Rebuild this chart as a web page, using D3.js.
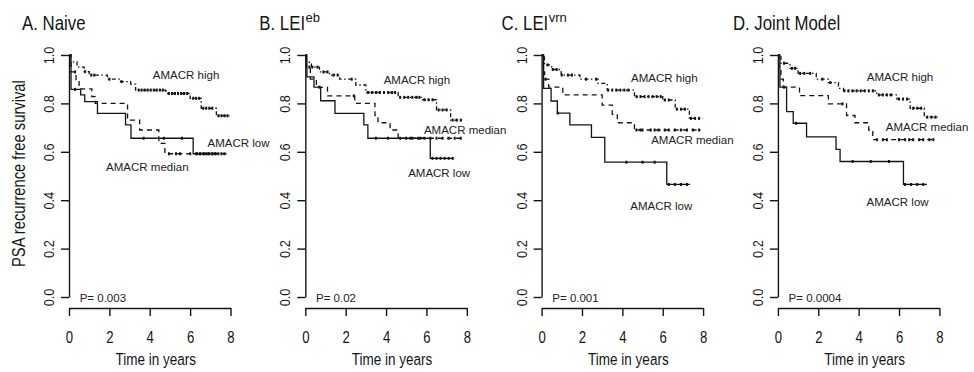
<!DOCTYPE html>
<html><head><meta charset="utf-8">
<script src="https://cdn.jsdelivr.net/npm/d3@7"></script>
<style>body{margin:0;background:#fff}svg{display:block}</style>
</head><body><svg id="chart" width="974" height="372"></svg>
<script>
// ---------------- data ----------------
const panelTitles = ["A. Naive", "B. LEI", "C. LEI", "D. Joint Model"];
const panelSups = ["", "eb", "vrn", ""];
const pValues = ["P= 0.003", "P= 0.02", "P= 0.001", "P= 0.0004"];
const groups = ["AMACR high", "AMACR median", "AMACR low"];
const xTicks = [0, 2, 4, 6, 8];
const yTicks = [0, 0.2, 0.4, 0.6, 0.8, 1.0];
const xTitle = "Time in years";
const yTitle = "PSA recurrence free survival";

// Kaplan-Meier steps: [time, survival]; last pair = end of follow-up
const naiveHigh = [[0,1],[0.05,0.972],[0.4,0.95],[0.75,0.931],[1.0,0.917],[1.9,0.90],[2.55,0.89],[3.05,0.88],[3.3,0.855],[4.8,0.841],[6.0,0.821],[6.55,0.78],[7.3,0.749],[7.95,0.749]];
const naiveMedian = [[0,1],[0.1,0.93],[0.35,0.897],[0.5,0.86],[1.13,0.828],[1.3,0.80],[2.9,0.731],[3.5,0.69],[4.45,0.635],[4.75,0.592],[7.8,0.592]];
const naiveLow = [[0,1],[0.1,0.858],[0.58,0.835],[0.78,0.807],[1.41,0.759],[2.8,0.711],[3.07,0.656],[6.15,0.592],[7.3,0.592]];

const ebHigh = [[0,1],[0.05,0.97],[0.3,0.95],[0.7,0.93],[1.2,0.917],[1.7,0.90],[2.5,0.876],[3.0,0.845],[4.6,0.825],[5.8,0.815],[6.5,0.773],[7.2,0.731],[7.85,0.731]];
const ebMedian = [[0,1],[0.05,0.95],[0.25,0.90],[0.55,0.866],[1.1,0.831],[2.45,0.80],[3.45,0.75],[3.6,0.72],[4.2,0.69],[4.6,0.656],[7.8,0.656]];
const ebLow = [[0,1],[0.08,0.91],[0.43,0.867],[0.76,0.811],[1.47,0.759],[2.9,0.711],[3.1,0.656],[6.19,0.573],[7.34,0.573]];

const vrnHigh = [[0,1],[0.14,0.959],[0.5,0.94],[0.97,0.917],[1.9,0.90],[2.79,0.883],[3.25,0.855],[4.6,0.828],[6.0,0.814],[6.62,0.776],[7.32,0.738],[8.0,0.738]];
const vrnMedian = [[0,1],[0.08,0.93],[0.15,0.90],[0.35,0.867],[1.05,0.835],[3.0,0.793],[3.5,0.755],[3.75,0.72],[4.6,0.69],[7.9,0.69]];
const vrnLow = [[0,1],[0.1,0.862],[0.47,0.81],[0.78,0.76],[1.4,0.711],[2.47,0.66],[3.13,0.557],[6.2,0.465],[7.35,0.465]];

const jointHigh = [[0,1],[0.15,0.966],[0.6,0.945],[1.0,0.924],[1.9,0.90],[2.5,0.886],[3.0,0.862],[3.25,0.852],[4.9,0.835],[5.9,0.818],[6.55,0.78],[7.25,0.743],[7.95,0.743]];
const jointMedian = [[0,1],[0.05,0.95],[0.15,0.90],[0.27,0.867],[1.07,0.832],[2.5,0.798],[3.4,0.75],[3.82,0.72],[4.5,0.69],[4.7,0.65],[7.8,0.65]];
const jointLow = [[0,1],[0.1,0.867],[0.43,0.766],[0.76,0.718],[1.42,0.662],[2.88,0.61],[3.08,0.56],[6.22,0.465],[7.38,0.465]];

// censoring times
const naiveHighCens = [0.8,1.1,1.25,2.0,2.6,3.45,3.6,3.75,3.9,4.05,4.2,4.35,4.5,4.65,4.95,5.1,5.25,5.4,5.55,5.7,5.85,6.15,6.3,6.45,6.65,6.8,6.95,7.1,7.4,7.55,7.7,7.85];
const naiveMedianCens = [0.3,4.95,5.3,5.5,6.0,6.35,6.5,6.65,6.8,6.95,7.1,7.25,7.4,7.55,7.7];
const naiveLowCens = [0.3,3.7,4.7,5.6,6.3,6.5,6.7,6.9,7.1,7.25];
const ebHighCens = [0.35,0.6,0.9,1.1,1.4,1.6,2.3,3.1,3.3,3.5,3.7,3.9,4.1,4.3,4.45,4.7,4.9,5.1,5.3,5.5,5.65,5.9,6.1,6.3,6.6,6.8,7.0,7.3,7.5,7.7];
const ebMedianCens = [0.2,2.4,4.7,5.0,5.3,5.6,5.9,6.2,6.5,6.8,7.1,7.4,7.7];
const ebLowCens = [0.7,3.5,4.1,5.2,5.7,6.3,6.5,6.7,6.9,7.1,7.3];
const vrnHighCens = [0.3,0.55,0.75,1.0,1.3,1.5,2.2,2.7,3.3,3.5,3.7,3.9,4.1,4.3,4.7,4.9,5.1,5.3,5.5,5.7,5.9,6.1,6.3,6.7,6.9,7.1,7.4,7.6,7.8];
const vrnMedianCens = [0.2,4.7,4.9,5.0,5.4,5.6,5.8,6.1,6.3,6.6,6.9,7.2,7.5,7.8];
const vrnLowCens = [0.8,4.2,5.0,5.6,6.3,6.6,6.9,7.2];
const jointHighCens = [0.3,0.7,0.85,1.1,1.3,1.6,2.2,2.6,3.3,3.5,3.7,3.9,4.1,4.3,4.5,4.7,5.0,5.2,5.4,5.6,6.0,6.2,6.4,6.7,6.9,7.1,7.4,7.6,7.8];
const jointMedianCens = [0.3,3.2,4.9,5.2,5.4,6.0,6.3,6.5,6.7,7.0,7.2,7.5,7.7];
const jointLowCens = [0.9,3.7,4.6,5.5,6.3,6.6,6.9,7.2];

const panelCurves = [
  [naiveHigh, naiveMedian, naiveLow],
  [ebHigh, ebMedian, ebLow],
  [vrnHigh, vrnMedian, vrnLow],
  [jointHigh, jointMedian, jointLow]
];
const panelCensors = [
  [naiveHighCens, naiveMedianCens, naiveLowCens],
  [ebHighCens, ebMedianCens, ebLowCens],
  [vrnHighCens, vrnMedianCens, vrnLowCens],
  [jointHighCens, jointMedianCens, jointLowCens]
];

// ---------------- layout ----------------
const layout = {
  left0: 69, step: 236.3, plotW: 161.5,
  yTop: 55, yBottom: 297, xAxisY: 308,
  titleDx: [-47, -46, -40, -45],
  // label anchors in data coordinates [t, s] for high / median / low
  labelAt: [
    [[5.8,0.917],[3.88,0.537],[8.4,0.636]],
    [[5.53,0.897],[7.92,0.69],[6.63,0.512]],
    [[6.08,0.905],[7.47,0.649],[5.93,0.376]],
    [[6.05,0.909],[7.39,0.702],[5.93,0.393]]
  ]
};
const dashes = ["1.5,2.5,4,2.5", "5,4", null];
const ink = "#141414";
const narrow = "scale(0.82,1)";
const FONT = "'Liberation Sans', Arial, Helvetica, sans-serif";

const svg = d3.select("#chart").attr("font-family", FONT);

function survAt(curve, t) {
  let s = curve[0][1];
  for (const [tt, ss] of curve) { if (tt <= t) s = ss; else break; }
  return s;
}

panelCurves.forEach((curves, i) => {
  const x0 = layout.left0 + i * layout.step;
  const x = d3.scaleLinear().domain([0, 8]).range([x0, x0 + layout.plotW]);
  const y = d3.scaleLinear().domain([0, 1]).range([layout.yBottom, layout.yTop]);
  const g = svg.append("g");

  // x axis
  const gx = g.append("g").attr("transform", `translate(0,${layout.xAxisY})`)
    .call(d3.axisBottom(x).tickValues(xTicks).tickSize(8).tickSizeOuter(0).tickPadding(0));
  gx.selectAll("path,line").attr("stroke", ink).attr("stroke-width", 1.4);
  gx.selectAll("text").attr("y", null).attr("dy", null)
    .attr("transform", `translate(0,34.5) ${narrow}`)
    .attr("font-size", 16).attr("fill", ink).attr("font-family", FONT);

  // y axis
  const gy = g.append("g").attr("transform", `translate(${x0},0)`)
    .call(d3.axisLeft(y).tickValues(yTicks).tickSize(8).tickSizeOuter(0).tickFormat(d3.format(".1f")));
  gy.selectAll("path,line").attr("stroke", ink).attr("stroke-width", 1.4);
  gy.selectAll("text").attr("x", null).attr("dy", null)
    .attr("transform", `translate(-15,0) rotate(-90) ${narrow}`)
    .attr("text-anchor", "middle")
    .attr("font-size", 15.5).attr("fill", ink).attr("font-family", FONT);

  // curves
  const line = d3.line().x(d => x(d[0])).y(d => y(d[1])).curve(d3.curveStepAfter);
  curves.forEach((c, k) => {
    g.append("path").datum(c).attr("d", line)
      .attr("fill", "none").attr("stroke", ink).attr("stroke-width", 1.3)
      .attr("stroke-dasharray", dashes[k]);
    g.selectAll(null).data(panelCensors[i][k]).enter().append("line")
      .attr("x1", t => x(t)).attr("x2", t => x(t))
      .attr("y1", t => y(survAt(c, t)) - 1.5).attr("y2", t => y(survAt(c, t)) + 1.5)
      .attr("stroke", ink).attr("stroke-width", 2);
  });

  // curve labels
  groups.forEach((lab, k) => {
    const [lt, ls] = layout.labelAt[i][k];
    g.append("text").attr("x", x(lt)).attr("y", y(ls)).attr("dy", "0.36em")
      .attr("text-anchor", "middle").attr("font-size", 11.5).attr("fill", "#222").text(lab);
  });

  // p-value
  g.append("text").attr("x", x(0.53)).attr("y", y(0) + 4.5)
    .attr("font-size", 11.5).attr("fill", "#222").text(pValues[i]);

  // x title
  g.append("text").attr("transform", `translate(${x(4) + 6},365) ${narrow}`)
    .attr("text-anchor", "middle").attr("font-size", 16.5).attr("fill", ink).text(xTitle);

  // panel title
  const tx = x0 + layout.titleDx[i];
  const tt = g.append("text").attr("transform", `translate(${tx},29.5) ${narrow}`)
    .attr("font-size", 20.5).attr("fill", ink).text(panelTitles[i]);
  if (panelSups[i]) {
    const w = tt.node().getComputedTextLength() * 0.82;
    g.append("text").attr("x", tx + w + 0.5).attr("y", 21.5)
      .attr("font-size", 13).attr("fill", ink).text(panelSups[i]);
  }

  if (i === 0) {
    g.append("text").attr("transform", `translate(25,${y(0.51)}) rotate(-90) ${narrow}`)
      .attr("text-anchor", "middle").attr("font-size", 18).attr("fill", ink).text(yTitle);
  }
});
</script></body></html>
